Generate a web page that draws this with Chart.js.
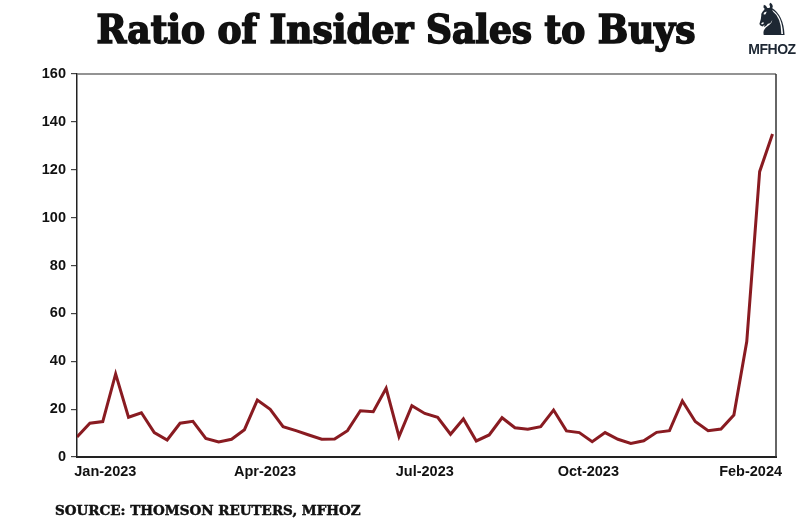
<!DOCTYPE html>
<html>
<head>
<meta charset="utf-8">
<script src="https://cdn.jsdelivr.net/npm/chart.js@4"></script>
<style>
  html, body { margin: 0; padding: 0; background: #fff; }
  #wrap { position: relative; width: 800px; height: 523px; overflow: hidden; }
  #chart { position: absolute; left: 0; top: 0; }
  .title {
    position: absolute; left: 0; width: 792px; top: 5px; text-align: center;
    font-family: "DejaVu Serif Condensed", "DejaVu Serif", serif; font-weight: bold;
    font-size: 40px; color: #111; -webkit-text-stroke: 1.6px #111;
  }
  .logo { position: absolute; left: 744px; top: -2px; width: 56px; text-align: center; color: #1d2733; }
  .logo .knight { font-family: "DejaVu Sans", sans-serif; font-size: 44px; line-height: 44px; }
  .logo .brand { font-family: "Liberation Sans Narrow", "Liberation Sans", sans-serif; font-weight: bold; font-size: 14px; line-height: 14px; letter-spacing: -0.5px; }
  .source {
    position: absolute; left: 55px; top: 502px;
    font-family: "DejaVu Serif", serif; font-weight: bold; font-size: 13.5px; color: #111;
    -webkit-text-stroke: 0.5px #111;
  }
</style>
</head>
<body>
<div id="wrap">
  <canvas id="chart" width="800" height="523"></canvas>
  <div class="title">Ratio of Insider Sales to Buys</div>
  <div class="logo"><div class="knight">&#9822;</div><div class="brand">MFHOZ</div></div>
  <div class="source">SOURCE: THOMSON REUTERS, MFHOZ</div>
</div>
<script>
// weekly ratio of insider sales to buys, Jan-2023 .. Feb-2024
const ratio = [
  8.4, 14.1, 14.8, 34.7, 16.6, 18.5, 10.2, 7.1, 14.1, 14.9,
  7.8, 6.3, 7.4, 11.4, 23.8, 19.9, 12.7, 11.0, 9.2, 7.4,
  7.5, 11.0, 19.3, 18.9, 28.7, 8.5, 21.4, 18.2, 16.6, 9.5,
  15.9, 6.7, 9.2, 16.4, 12.2, 11.6, 12.7, 19.6, 10.9, 10.2,
  6.4, 10.2, 7.4, 5.7, 6.8, 10.3, 11.0, 23.4, 14.8, 11.0,
  11.7, 17.5, 48.2, 119.2, 134.9
];
const xTickLabels = ['Jan-2023', 'Apr-2023', 'Jul-2023', 'Oct-2023', 'Feb-2024'];
const xTickWeeks = [2.2, 14.6, 27.0, 39.7, 52.3];
const yTicks = [0, 20, 40, 60, 80, 100, 120, 140, 160];

const LINE = '#891b21';
const AXIS = '#222';
const TICK_FONT = { family: 'Liberation Sans, Arial, sans-serif', weight: 'bold', size: 14.5 };

// gray top edge + dark right edge of the plot box
const frame = {
  id: 'frame',
  afterDraw(chart) {
    const { ctx, chartArea: a } = chart;
    ctx.save();
    ctx.strokeStyle = '#6f6f6f';
    ctx.lineWidth = 1.5;
    ctx.beginPath();
    ctx.moveTo(a.left, a.top);
    ctx.lineTo(a.right, a.top);
    ctx.stroke();
    ctx.strokeStyle = '#333';
    ctx.beginPath();
    ctx.moveTo(a.right, a.top);
    ctx.lineTo(a.right, a.bottom);
    ctx.stroke();
    ctx.restore();
  }
};

new Chart(document.getElementById('chart'), {
  type: 'line',
  data: {
    datasets: [{
      data: ratio.map((v, i) => ({ x: i, y: v })),
      borderColor: LINE,
      borderWidth: 3,
      pointRadius: 0,
      tension: 0,
      borderJoinStyle: 'miter'
    }]
  },
  options: {
    responsive: false,
    animation: false,
    layout: { padding: { top: 74, right: 24, bottom: 0, left: 0 } },
    plugins: { legend: { display: false }, tooltip: { enabled: false } },
    scales: {
      x: {
        type: 'linear',
        min: 0,
        max: 54.27,
        afterFit: s => { s.height = 66; },
        afterBuildTicks: s => { s.ticks = xTickWeeks.map(v => ({ value: v })); },
        grid: { display: false, drawTicks: false },
        border: { color: AXIS, width: 2 },
        ticks: {
          autoSkip: false, maxRotation: 0, padding: 6,
          color: '#111', font: TICK_FONT,
          callback: (v, i) => xTickLabels[i]
        }
      },
      y: {
        min: 0,
        max: 160,
        afterFit: s => { s.width = 77; },
        afterBuildTicks: s => { s.ticks = yTicks.map(v => ({ value: v })); },
        grid: { display: true, drawOnChartArea: false, drawTicks: true, tickLength: 6, color: '#444', lineWidth: 1.2 },
        border: { color: AXIS, width: 1.5 },
        ticks: { padding: 5, color: '#111', font: TICK_FONT }
      }
    }
  },
  plugins: [frame]
});
</script>
</body>
</html>
